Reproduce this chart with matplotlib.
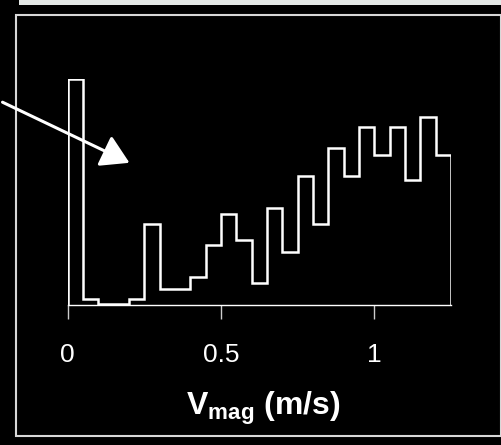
import matplotlib
matplotlib.use("Agg")
import matplotlib.pyplot as plt
from matplotlib.patches import Rectangle, FancyArrowPatch
import numpy as np

plt.rcParams['font.family'] = ['Liberation Sans', 'DejaVu Sans']
plt.rcParams['mathtext.fontset'] = 'custom'
plt.rcParams['mathtext.rm'] = 'Liberation Sans:bold'
plt.rcParams['mathtext.bf'] = 'Liberation Sans:bold'
plt.rcParams['mathtext.it'] = 'Liberation Sans:bold'

# Histogram data (bin edges in m/s, counts in arbitrary units)
bin_edges = [round(0.05 * i, 2) for i in range(26)]
counts = [226, 6, 1, 1, 6, 81, 16, 16, 28, 60, 91, 65, 22, 97, 53,
          129, 81, 157, 129, 178, 150, 178, 125, 188, 150]
tick_values = [0, 0.5, 1]
tick_labels = ['0', '0.5', '1']
xlabel = r'$\mathbf{V_{mag}}$ (m/s)'

W, H = 501, 445
fig = plt.figure(figsize=(W / 100, H / 100), dpi=100, facecolor='black')

# top light strip
fig.patches.append(Rectangle((19 / W, 1 - 5 / H), 1 - 19 / W, 5 / H,
                             transform=fig.transFigure, facecolor='#e4e8e6',
                             edgecolor='none'))
# outer frame
fig.patches.append(Rectangle((15.7 / W, 1 - 436 / H), (501 - 15.7) / W, (436 - 15) / H,
                             transform=fig.transFigure, facecolor='none',
                             edgecolor='#d8d8d8', linewidth=1.5))

x0, x1 = 67.5, 451.0
yb, yt = 305.0, 79.0
ax = fig.add_axes([x0 / W, 1 - yb / H, (x1 - x0) / W, (yb - yt) / H])
ax.set_facecolor('black')
ax.stairs(counts, bin_edges, baseline=0, fill=False, color='white', linewidth=1.8)
ax.set_xlim(0, 1.25)
ax.set_ylim(0, 226)
for s in ['left', 'right', 'top']:
    ax.spines[s].set_visible(False)
ax.spines['bottom'].set_color('white')
ax.spines['bottom'].set_linewidth(1.0)
ax.set_yticks([])
ax.set_xticks(tick_values)
ax.set_xticklabels(tick_labels)
ax.tick_params(axis='x', colors='#cccccc', length=10, width=1.0, direction='out',
               labelsize=19, labelcolor='white', pad=17)
ax.set_xlabel(xlabel, color='white', fontsize=23, fontweight='bold')
ax.xaxis.set_label_coords((263 - x0) / (x1 - x0), -(408 - yb) / (yb - yt),
                          transform=ax.transAxes)
ax.xaxis.label.set_va('center')

# arrow
arr = FancyArrowPatch((0 / W, 1 - 101 / H), (132 / W, 1 - 164 / H),
                      transform=fig.transFigure, arrowstyle='-|>,head_length=1.0,head_width=0.6',
                      mutation_scale=17, color='white', linewidth=2.2)
fig.patches.append(arr)

fig.savefig('out.png', dpi=100, facecolor='black')
